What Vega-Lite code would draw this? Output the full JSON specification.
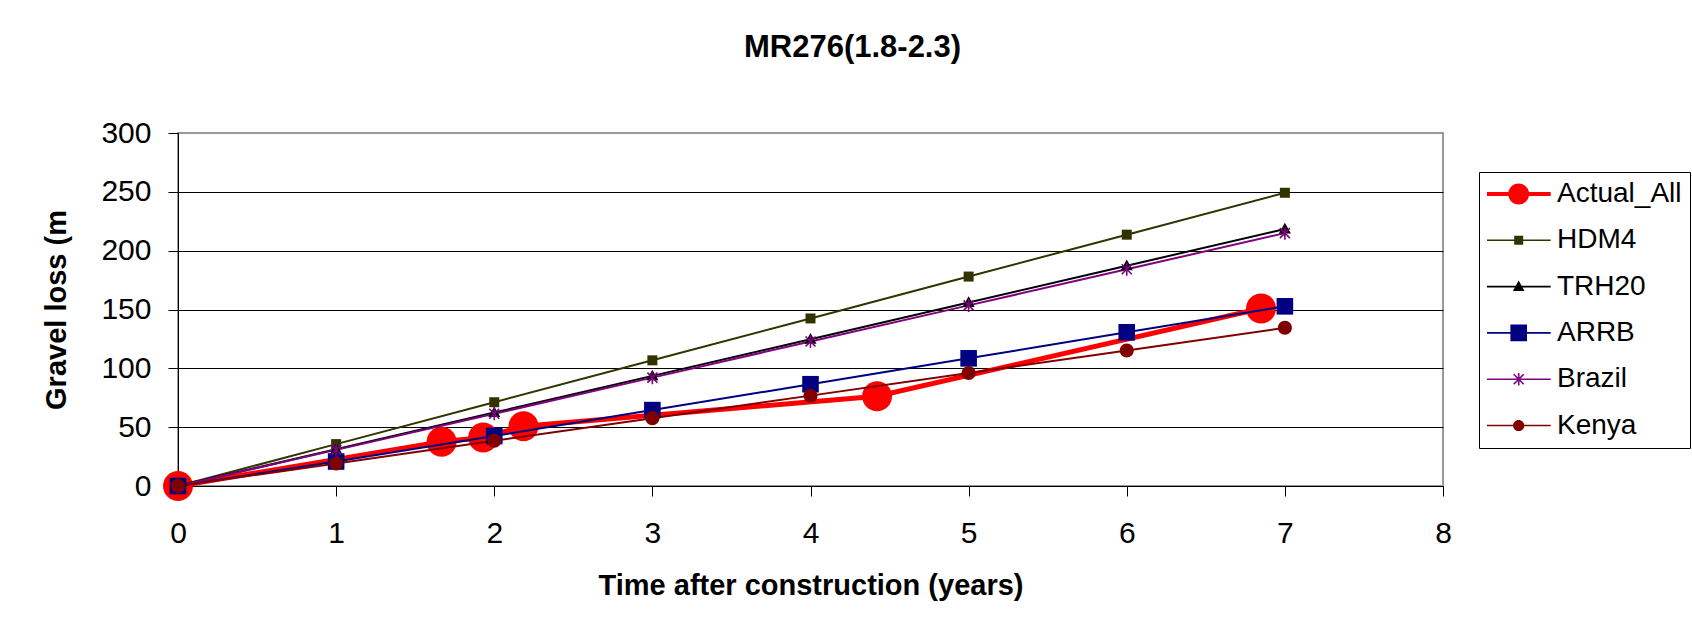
{
  "$schema": "https://vega.github.io/schema/vega-lite/v6.json",
  "width": 1265,
  "height": 353,
  "autosize": {"type": "none"},
  "padding": {"left": 178, "top": 133, "right": 249, "bottom": 148},
  "background": "white",
  "title": {
    "text": "MR276(1.8-2.3)",
    "font": "Liberation Sans",
    "fontSize": 31,
    "fontWeight": "bold",
    "color": "black",
    "anchor": "middle",
    "frame": "group",
    "dx": 42,
    "offset": 54
  },
  "config": {
    "view": {"stroke": "#999999", "strokeWidth": 2},
    "axis": {
      "labelFont": "Liberation Sans",
      "titleFont": "Liberation Sans",
      "labelColor": "black",
      "titleColor": "black",
      "domainColor": "black",
      "tickColor": "black",
      "labelFontSize": 30,
      "titleFontSize": 29,
      "titleFontWeight": "bold",
      "tickSize": 10,
      "domainWidth": 1,
      "tickWidth": 1
    },
    "legend": {
      "padding": 8,
      "strokeColor": "black",
      "fillColor": "white",
      "labelFont": "Liberation Sans",
      "labelFontSize": 28,
      "labelColor": "black",
      "symbolSize": 400,
      "symbolStrokeWidth": 0,
      "labelOffset": 42,
      "rowPadding": 18.3,
      "labelLimit": 300
    }
  },
  "datasets": {
    "d": [
      {"series": "Actual_All", "t": 0, "v": 0},
      {"series": "Actual_All", "t": 1.667, "v": 37.6},
      {"series": "Actual_All", "t": 1.93, "v": 41.2},
      {"series": "Actual_All", "t": 2.185, "v": 50.8},
      {"series": "Actual_All", "t": 4.421, "v": 76.3},
      {"series": "Actual_All", "t": 6.849, "v": 150.9},
      {"series": "HDM4", "t": 0, "v": 0},
      {"series": "HDM4", "t": 1, "v": 35.6},
      {"series": "HDM4", "t": 2, "v": 71.2},
      {"series": "HDM4", "t": 3, "v": 106.8},
      {"series": "HDM4", "t": 4, "v": 142.4},
      {"series": "HDM4", "t": 5, "v": 178},
      {"series": "HDM4", "t": 6, "v": 213.6},
      {"series": "HDM4", "t": 7, "v": 249.2},
      {"series": "TRH20", "t": 0, "v": 0},
      {"series": "TRH20", "t": 1, "v": 31.2},
      {"series": "TRH20", "t": 2, "v": 62.4},
      {"series": "TRH20", "t": 3, "v": 93.6},
      {"series": "TRH20", "t": 4, "v": 124.8},
      {"series": "TRH20", "t": 5, "v": 156},
      {"series": "TRH20", "t": 6, "v": 187.2},
      {"series": "TRH20", "t": 7, "v": 218.4},
      {"series": "ARRB", "t": 0, "v": 0},
      {"series": "ARRB", "t": 1, "v": 20.8},
      {"series": "ARRB", "t": 2, "v": 42.5},
      {"series": "ARRB", "t": 3, "v": 64.5},
      {"series": "ARRB", "t": 4, "v": 86.5},
      {"series": "ARRB", "t": 5, "v": 108.5},
      {"series": "ARRB", "t": 6, "v": 130.6},
      {"series": "ARRB", "t": 7, "v": 152.7},
      {"series": "Brazil", "t": 0, "v": 0},
      {"series": "Brazil", "t": 1, "v": 30.7},
      {"series": "Brazil", "t": 2, "v": 61.4},
      {"series": "Brazil", "t": 3, "v": 92.1},
      {"series": "Brazil", "t": 4, "v": 122.8},
      {"series": "Brazil", "t": 5, "v": 153.5},
      {"series": "Brazil", "t": 6, "v": 184.2},
      {"series": "Brazil", "t": 7, "v": 214.9},
      {"series": "Kenya", "t": 0, "v": 0},
      {"series": "Kenya", "t": 1, "v": 19.2},
      {"series": "Kenya", "t": 2, "v": 38.4},
      {"series": "Kenya", "t": 3, "v": 57.6},
      {"series": "Kenya", "t": 4, "v": 76.8},
      {"series": "Kenya", "t": 5, "v": 96},
      {"series": "Kenya", "t": 6, "v": 115.2},
      {"series": "Kenya", "t": 7, "v": 134.4}
    ]
  },
  "data": {"name": "d"},
  "encoding": {
    "x": {
      "field": "t",
      "type": "quantitative",
      "title": "Time after construction (years)",
      "scale": {"domain": [0, 8], "nice": false, "zero": true},
      "axis": {
        "values": [0, 1, 2, 3, 4, 5, 6, 7, 8],
        "format": "d",
        "grid": false,
        "labelPadding": 22,
        "titlePadding": 23,
        "labelFlush": false,
        "labelOverlap": false,
        "labelAngle": 0
      }
    },
    "y": {
      "field": "v",
      "type": "quantitative",
      "title": "Gravel loss (m",
      "scale": {"domain": [0, 300], "nice": false},
      "axis": {
        "values": [0, 50, 100, 150, 200, 250, 300],
        "format": "d",
        "grid": true,
        "gridColor": {"condition": {"test": "datum.value === 300", "value": "#999999"}, "value": "black"},
        "gridWidth": 1,
        "labelPadding": 17,
        "titlePadding": 29,
        "labelOverlap": false
      }
    },
    "color": {
      "field": "series",
      "type": "nominal",
      "scale": {
        "domain": ["Actual_All", "HDM4", "TRH20", "ARRB", "Brazil", "Kenya"],
        "range": ["#FF0000", "#333300", "#000000", "#000080", "#800080", "#800000"]
      },
      "legend": null
    }
  },
  "layer": [
    {
      "transform": [{"filter": "false"}],
      "mark": {"type": "point", "filled": true, "opacity": 1, "size": 400, "strokeWidth": 0},
      "encoding": {
        "color": {
          "field": "series",
          "type": "nominal",
          "title": null,
          "legend": {"orient": "none", "legendX": 1301, "legendY": 39, "title": null}
        },
        "shape": {
          "field": "series",
          "type": "nominal",
          "title": null,
          "scale": {
            "domain": ["Actual_All", "HDM4", "TRH20", "ARRB", "Brazil", "Kenya"],
            "range": [
              "M-1.4,-0.2H4.97V0.2H-1.4Z M0.72,0A1.05,1.05 0 0,1 2.82,0A1.05,1.05 0 0,1 0.72,0Z",
              "M-1.4,-0.08H4.97V0.08H-1.4Z M1.32,-0.45H2.22V0.45H1.32Z",
              "M-1.4,-0.08H4.97V0.08H-1.4Z M1.77,-0.6L2.35,0.45L1.19,0.45Z",
              "M-1.4,-0.08H4.97V0.08H-1.4Z M0.94,-0.83H2.6V0.83H0.94Z",
              "M-1.4,-0.08H4.97V0.08H-1.4Z M1.69,-0.62H1.85V0.62H1.69Z M1.327,-0.557L2.327,0.443L2.213,0.557L1.213,-0.443Z M1.213,0.443L2.213,-0.557L2.327,-0.443L1.327,0.557Z",
              "M-1.4,-0.08H4.97V0.08H-1.4Z M1.21,0A0.56,0.56 0 0,1 2.33,0A0.56,0.56 0 0,1 1.21,0Z"
            ]
          },
          "legend": {"orient": "none", "legendX": 1301, "legendY": 39, "title": null}
        }
      }
    },
    {
      "transform": [{"filter": "datum.series === 'Actual_All'"}],
      "mark": {"type": "line", "strokeWidth": 5}
    },
    {
      "transform": [{"filter": "datum.series === 'Actual_All'"}],
      "mark": {"type": "point", "filled": true, "opacity": 1, "size": 400, "strokeWidth": 0,
        "shape": "M-1.5,0A1.5,1.5 0 0,1 1.5,0A1.5,1.5 0 0,1 -1.5,0Z"}
    },
    {
      "transform": [{"filter": "datum.series !== 'Actual_All'"}],
      "mark": {"type": "line", "strokeWidth": 2}
    },
    {
      "transform": [{"filter": "datum.series === 'HDM4'"}],
      "mark": {"type": "point", "filled": true, "opacity": 1, "size": 400, "strokeWidth": 0,
        "shape": "M-0.5,-0.5H0.5V0.5H-0.5Z"}
    },
    {
      "transform": [{"filter": "datum.series === 'TRH20'"}],
      "mark": {"type": "point", "filled": true, "opacity": 1, "size": 400, "strokeWidth": 0,
        "shape": "M0,-0.62L0.6,0.45L-0.6,0.45Z"}
    },
    {
      "transform": [{"filter": "datum.series === 'ARRB'"}],
      "mark": {"type": "point", "filled": true, "opacity": 1, "size": 400, "strokeWidth": 0,
        "shape": "M-0.83,-0.83H0.83V0.83H-0.83Z"}
    },
    {
      "transform": [{"filter": "datum.series === 'Brazil'"}],
      "mark": {"type": "point", "filled": true, "opacity": 1, "size": 400, "strokeWidth": 0,
        "shape": "M-0.08,-0.65H0.08V0.65H-0.08Z M-0.443,-0.557L0.557,0.443L0.443,0.557L-0.557,-0.443Z M-0.557,0.443L0.443,-0.557L0.557,-0.443L-0.443,0.557Z"}
    },
    {
      "transform": [{"filter": "datum.series === 'Kenya'"}],
      "mark": {"type": "point", "filled": true, "opacity": 1, "size": 400, "strokeWidth": 0,
        "shape": "M-0.7,0A0.7,0.7 0 0,1 0.7,0A0.7,0.7 0 0,1 -0.7,0Z"}
    }
  ]
}
